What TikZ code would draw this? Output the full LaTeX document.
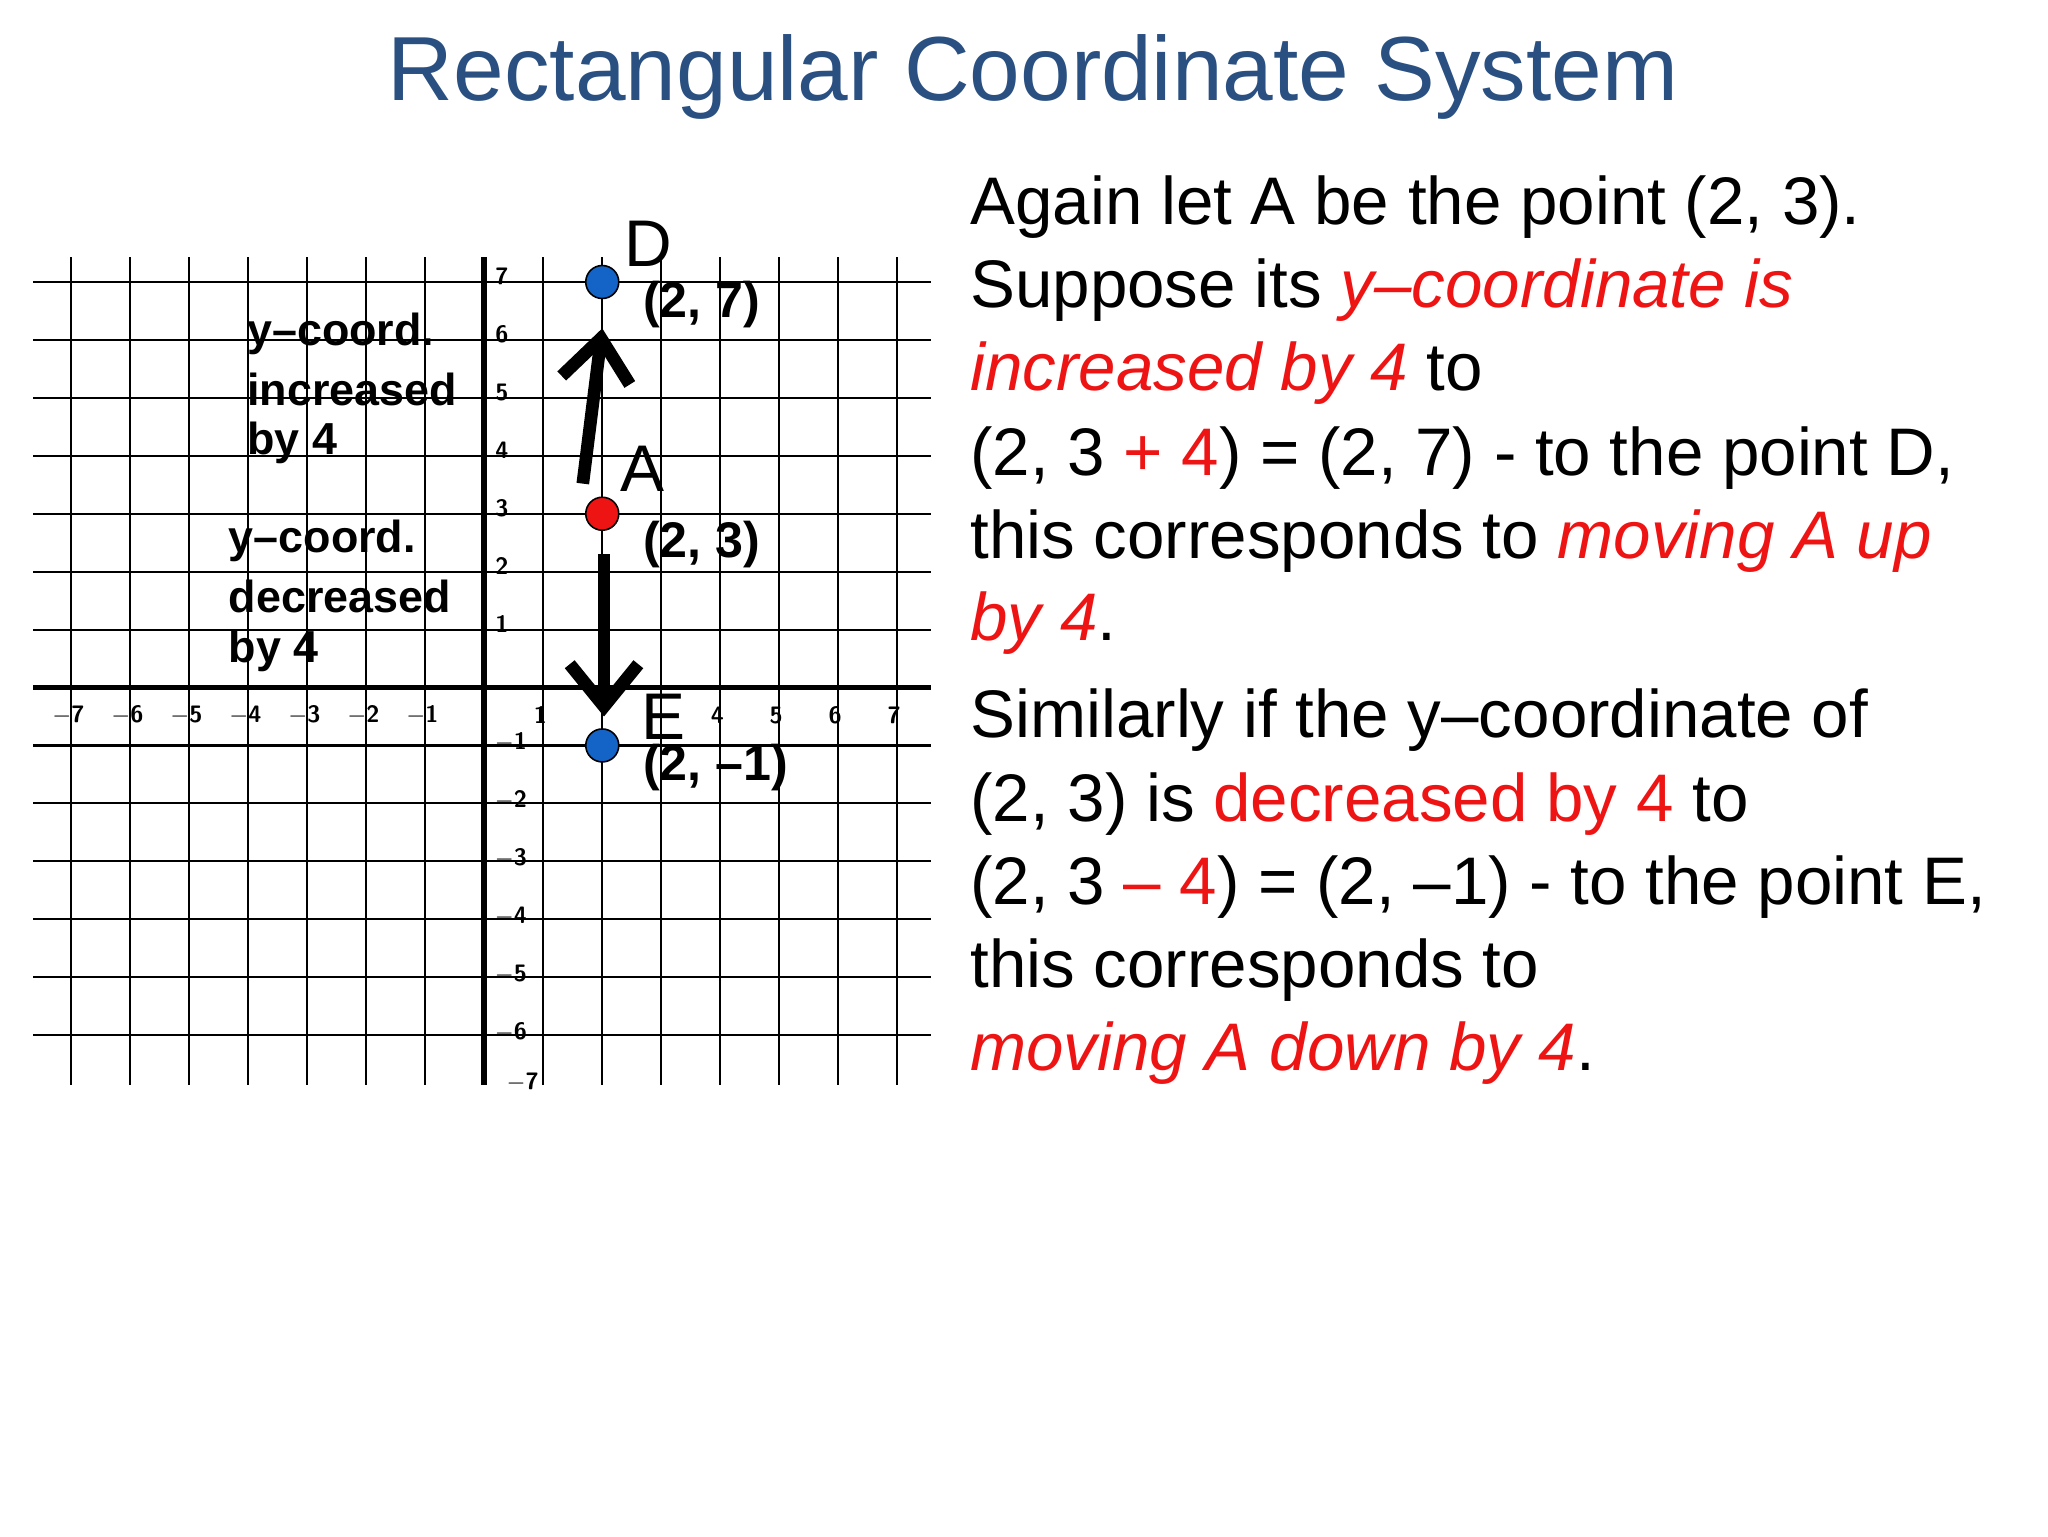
\documentclass[tikz,border=0pt]{standalone}
\usepackage{fontspec}
\setmainfont{Liberation Sans}
\usetikzlibrary{arrows.meta}
\definecolor{ttl}{RGB}{42,80,130}
\definecolor{rd}{RGB}{238,20,20}
\definecolor{bl}{RGB}{20,100,200}
\begin{document}
\begin{tikzpicture}[x=0.5pt,y=-0.5pt,
  body/.style={anchor=west,inner sep=0pt,font=\fontsize{25.5}{30}\selectfont},
  side/.style={anchor=west,inner sep=0pt,font=\bfseries\fontsize{17}{20}\selectfont},
  coordlbl/.style={anchor=west,inner sep=0pt,font=\bfseries\fontsize{19}{22}\selectfont},
  ptlbl/.style={inner sep=0pt,font=\fontsize{25}{28}\selectfont},
  tick/.style={inner sep=0pt,font=\sffamily\bfseries\fontsize{9}{10}\selectfont},
  dot/.style={circle,draw=black,line width=0.6pt,minimum size=12.5pt,inner sep=0pt},
  bigarrow/.style={line width=4.8pt,-{Straight Barb[length=16pt,width=26pt,line width=4.8pt]}}]
\useasboundingbox (0,0) rectangle (1552,1164);
\node[inner sep=0pt,text=ttl,font=\fontsize{34.5}{40}\selectfont] (title) at (783,58) {Rectangular Coordinate System};
\begin{scope}[shift={(367,521)},x={(22.35pt,0)},y={(0,21.95pt)}]
  \foreach \i in {-7,...,-1,1,2,...,7} \draw[line width=0.8pt] (\i,7.43) -- (\i,-6.86);
  \foreach \j in {-6,...,-1,1,2,...,7} \draw[line width=0.8pt] (-7.65,\j) -- (7.58,\j);
  \draw[line width=2.2pt] (0,7.43) -- (0,-6.86);
  \draw[line width=2.2pt] (-7.65,0) -- (7.58,0);
  \foreach \i in {-7,...,-1} \node[tick] at (\i-0.05,-0.48) {$-$\the\numexpr-\i\relax};
  \foreach \i in {1,4,5,6,7} \node[tick] at (\i-0.05,-0.48) {\i};
  \foreach \j in {1,...,7} \node[tick] at (0.3,\j+0.1) {\j};
  \foreach \j in {-1,...,-6} \node[tick] at (0.45,\j+0.05) {$-$\the\numexpr-\j\relax};
  \node[tick] at (0.65,-6.82) {$-$7};
  \coordinate (aup0) at (1.67,3.52);
  \coordinate (aup1) at (2,6.2);
  \coordinate (adn0) at (2.03,2.3);
  \coordinate (adn1) at (2.03,-0.5);
  \draw[bigarrow] (aup0) -- (aup1);
  \draw[bigarrow] (adn0) -- (adn1);
  \node[dot,fill=bl] (D) at (2,7) {};
  \node[dot,fill=rd] (A) at (2,3) {};
  \node[dot,fill=bl] (E) at (2,-1) {};
\end{scope}
\node[ptlbl] (Dl) at (491,185) {D};
\node[ptlbl] (Al) at (487,355) {A};
\node[ptlbl] (El) at (503,543) {E};
\node[coordlbl] (Dc) at (487,231) {(2, 7)};
\node[coordlbl] (Ac) at (487,413) {(2, 3)};
\node[coordlbl] (Ec) at (487,582) {(2, \textendash1)};
\node[side] (s1) at (187,253) {y\textendash coord.};
\node[side] (s2) at (187,295) {increased};
\node[side] (s3) at (187,336) {by 4};
\node[side] (t1) at (173,410) {y\textendash coord.};
\node[side] (t2) at (173,452) {decreased};
\node[side] (t3) at (173,493) {by 4};
\node[body] (l1) at (735,157) {Again let A be the point (2, 3).};
\node[body] (l2) at (735,220) {Suppose its \textcolor{rd}{\itshape y\textendash coordinate is}};
\node[body] (l3) at (735,283) {\textcolor{rd}{\itshape increased by 4} to};
\node[body] (l4) at (735,347) {(2, 3 \textcolor{rd}{+ 4}) = (2, 7) - to the point D,};
\node[body] (l5) at (735,410) {this corresponds to \textcolor{rd}{\itshape moving A up}};
\node[body] (l6) at (735,472) {\textcolor{rd}{\itshape by 4}.};
\node[body] (l7) at (735,546) {Similarly if the y\textendash coordinate of};
\node[body] (l8) at (735,609) {(2, 3) is \textcolor{rd}{decreased by 4} to};
\node[body] (l9) at (735,672) {(2, 3 \textcolor{rd}{\textendash\ 4}) = (2, \textendash1) - to the point E,};
\node[body] (l10) at (735,735) {this corresponds to};
\node[body] (l11) at (735,798) {\textcolor{rd}{\itshape moving A down by 4}.};
\end{tikzpicture}
\end{document}
